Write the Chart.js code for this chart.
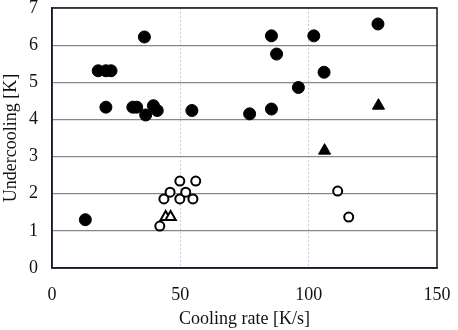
<!DOCTYPE html>
<html>
<head>
<meta charset="utf-8">
<script src="https://cdn.jsdelivr.net/npm/chart.js@4"></script>
<style>
  html, body { margin: 0; padding: 0; background: #fff; }
  #wrap { width: 458px; height: 330px; }
</style>
</head>
<body>
<div id="wrap"><canvas id="chart" width="458" height="330"></canvas></div>
<script>
// cooling rate [K/s] and undercooling [K]
const filledCircleX = [13, 18, 21, 23, 21, 31.5, 33, 36, 36.5, 39.5, 41, 54.5, 77, 85.5, 85.5, 87.5, 96, 102, 106, 127];
const filledCircleY = [1.3, 5.31, 5.31, 5.31, 4.33, 4.33, 4.33, 6.22, 4.12, 4.37, 4.24, 4.24, 4.15, 4.28, 6.25, 5.76, 4.86, 6.25, 5.27, 6.57];
const openCircleX = [42, 43.6, 46, 49.8, 49.8, 52.1, 54.9, 56, 111.3, 115.6];
const openCircleY = [1.13, 1.86, 2.04, 2.34, 1.86, 2.04, 1.86, 2.34, 2.07, 1.37];
const filledTriangleX = [106.2, 127.2];
const filledTriangleY = [3.16, 4.37];
const openTriangleX = [44.3, 46.2];
const openTriangleY = [1.37, 1.37];

const xTicks = [0, 50, 100, 150];
const yTicks = [0, 1, 2, 3, 4, 5, 6, 7];

function pts(xs, ys) {
  return xs.map((x, i) => ({ x: x, y: ys[i] }));
}

const font = { family: "'Liberation Serif', 'Times New Roman', serif", size: 18 };

const ctx = document.getElementById("chart");

new Chart(ctx, {
  type: "scatter",
  data: {
    datasets: [
      {
        data: pts(filledCircleX, filledCircleY),
        pointStyle: "circle",
        pointRadius: 6,
        backgroundColor: "#000",
        borderColor: "#000",
        borderWidth: 1
      },
      {
        data: pts(openCircleX, openCircleY),
        pointStyle: "circle",
        pointRadius: 4.5,
        backgroundColor: "#fff",
        borderColor: "#000",
        borderWidth: 2
      },
      {
        data: pts(filledTriangleX, filledTriangleY),
        pointStyle: "triangle",
        pointRadius: 7,
        backgroundColor: "#000",
        borderColor: "#000",
        borderWidth: 1
      },
      {
        data: pts(openTriangleX, openTriangleY),
        pointStyle: "triangle",
        pointRadius: 6,
        backgroundColor: "#fff",
        borderColor: "#000",
        borderWidth: 2
      }
    ]
  },
  options: {
    responsive: false,
    animation: false,
    layout: { padding: 0 },
    plugins: { legend: { display: false }, tooltip: { enabled: false } },
    scales: {
      x: {
        type: "linear",
        min: 0,
        max: 150,
        afterBuildTicks: s => { s.ticks = xTicks.map(v => ({ value: v })); },
        afterFit: s => {
          s.height = 62;
          s.paddingLeft = 0;
          s.paddingRight = 21;
        },
        ticks: { color: "#111", font: font, padding: 16, maxRotation: 0 },
        grid: {
          color: "#d9c6d6",
          lineWidth: 1,
          drawTicks: false
        },
        border: { display: true, color: "#1a1a2a", width: 1.5, dash: [2, 2] },
        title: {
          display: true,
          text: "Cooling rate [K/s]",
          color: "#111",
          font: font,
          padding: { top: 2, bottom: 0 }
        }
      },
      y: {
        type: "linear",
        min: 0,
        max: 7,
        afterBuildTicks: s => { s.ticks = yTicks.map(v => ({ value: v })); },
        afterFit: s => {
          s.width = 52;
          s.paddingTop = 8;
          s.paddingBottom = 0;
        },
        ticks: { color: "#111", font: font, padding: 14 },
        grid: {
          color: "#8c8290",
          lineWidth: 1.2,
          drawTicks: false
        },
        border: { display: true, color: "#1a1a2a", width: 1.5 },
        title: {
          display: true,
          text: "Undercooling [K]",
          color: "#111",
          font: font,
          padding: { top: 0, bottom: 2 }
        }
      }
    }
  },
  plugins: [{
    id: "frame",
    afterDraw(chart) {
      const a = chart.chartArea;
      const c = chart.ctx;
      c.save();
      c.strokeStyle = "#1a1a2a";
      c.lineWidth = 1.5;
      c.setLineDash([]);
      c.strokeRect(a.left, a.top, a.right - a.left, a.bottom - a.top);
      c.restore();
    }
  }]
});
</script>
</body>
</html>
